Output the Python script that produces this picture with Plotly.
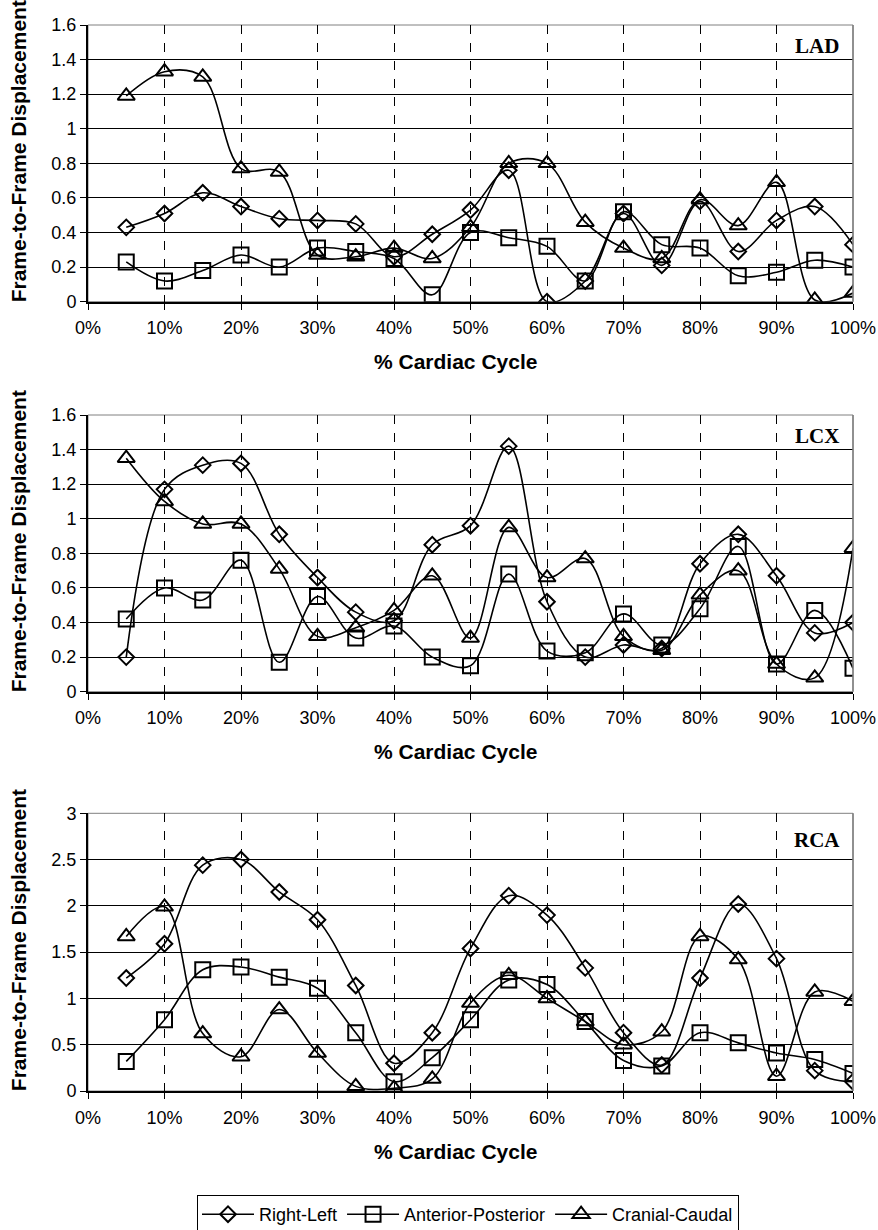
import plotly.graph_objects as go

W, H = 878, 1230

# ---------------- data ----------------
cycle = [0.05, 0.10, 0.15, 0.20, 0.25, 0.30, 0.35, 0.40, 0.45, 0.50,
         0.55, 0.60, 0.65, 0.70, 0.75, 0.80, 0.85, 0.90, 0.95, 1.00]

series_names = ["Right-Left", "Anterior-Posterior", "Cranial-Caudal"]
panel_names = ["LAD", "LCX", "RCA"]

lad_rl = [0.43, 0.51, 0.63, 0.55, 0.48, 0.47, 0.45, 0.26, 0.39, 0.53,
          0.76, 0.00, 0.12, 0.51, 0.21, 0.58, 0.29, 0.47, 0.55, 0.33]
lad_ap = [0.23, 0.12, 0.18, 0.27, 0.20, 0.31, 0.29, 0.25, 0.04, 0.40,
          0.37, 0.32, 0.12, 0.52, 0.33, 0.31, 0.15, 0.17, 0.24, 0.20]
lad_cc = [1.19, 1.33, 1.30, 0.77, 0.75, 0.27, 0.26, 0.31, 0.25, 0.43,
          0.80, 0.80, 0.46, 0.31, 0.25, 0.59, 0.44, 0.69, 0.01, 0.05]

lcx_rl = [0.20, 1.17, 1.31, 1.32, 0.91, 0.66, 0.46, 0.41, 0.85, 0.96,
          1.42, 0.52, 0.20, 0.27, 0.25, 0.74, 0.91, 0.67, 0.34, 0.40]
lcx_ap = [0.42, 0.60, 0.53, 0.76, 0.17, 0.55, 0.31, 0.38, 0.20, 0.15,
          0.68, 0.235, 0.225, 0.45, 0.27, 0.48, 0.84, 0.16, 0.47, 0.135]
lcx_cc = [1.35, 1.10, 0.97, 0.97, 0.71, 0.32, 0.37, 0.47, 0.67, 0.31,
          0.95, 0.66, 0.77, 0.32, 0.24, 0.56, 0.70, 0.16, 0.08, 0.83]

rca_rl = [1.22, 1.59, 2.44, 2.50, 2.15, 1.85, 1.14, 0.30, 0.63, 1.54,
          2.11, 1.90, 1.33, 0.63, 0.28, 1.22, 2.02, 1.43, 0.22, 0.10]
rca_ap = [0.32, 0.77, 1.31, 1.34, 1.23, 1.11, 0.63, 0.10, 0.36, 0.77,
          1.20, 1.15, 0.75, 0.33, 0.27, 0.63, 0.52, 0.41, 0.34, 0.19]
rca_cc = [1.67, 1.99, 0.62, 0.37, 0.88, 0.41, 0.05, 0.03, 0.13, 0.95,
          1.25, 1.00, 0.75, 0.50, 0.64, 1.67, 1.42, 0.16, 1.07, 0.97]

panel_data = [
    [lad_rl, lad_ap, lad_cc],
    [lcx_rl, lcx_ap, lcx_cc],
    [rca_rl, rca_ap, rca_cc],
]
y_max = [1.6, 1.6, 3.0]
y_step = [0.2, 0.2, 0.5]

# ---------------- styling ----------------
symbols = ["diamond-open", "square-open", "triangle-up-open"]
sizes = [12, 15, 15]

# pixel geometry of the three plot areas (top, bottom)
panel_px = [(25, 301.7), (415, 691.7), (813.3, 1091)]
x_left, x_right = 88, 853

TICK_FONT = dict(family="Liberation Sans, Arial, sans-serif", size=18, color="black")
TITLE_FONT = dict(family="Liberation Sans, Arial, sans-serif", size=21, color="black")

fig = go.Figure()

for p in range(3):
    xa = "x" if p == 0 else f"x{p+1}"
    ya = "y" if p == 0 else f"y{p+1}"
    for s in range(3):
        fig.add_trace(go.Scatter(
            x=cycle, y=panel_data[p][s],
            mode="lines+markers",
            name=series_names[s],
            showlegend=(p == 0),
            legendgroup=series_names[s],
            line=dict(color="black", width=1.6, shape="spline", smoothing=1.0),
            marker=dict(symbol=symbols[s], size=sizes[s], color="black",
                        line=dict(color="black", width=2)),
            xaxis=xa, yaxis=ya,
            cliponaxis=True,
        ))

layout = dict(
    width=W, height=H,
    margin=dict(l=0, r=0, t=0, b=0, autoexpand=False),
    paper_bgcolor="white",
    plot_bgcolor="white",
    showlegend=True,
    legend=dict(
        orientation="h",
        x=468 / W, xanchor="center",
        y=1 - 1195 / H, yanchor="top",
        bordercolor="black", borderwidth=1,
        bgcolor="white",
        font=dict(family="Liberation Sans, Arial, sans-serif", size=18, color="black"),
        itemwidth=52,
        tracegroupgap=0,
    ),
)

annotations = []
shapes = []
for p in range(3):
    top, bot = panel_px[p]
    suffix = "" if p == 0 else str(p + 1)
    dom_y = [1 - bot / H, 1 - top / H]
    layout["xaxis" + suffix] = dict(
        domain=[x_left / W, x_right / W],
        anchor="y" + suffix,
        range=[0, 1],
        tickmode="linear", tick0=0, dtick=0.1,
        tickformat=".0%",
        showgrid=True, gridcolor="black", gridwidth=1, griddash="dash",
        showline=True, linecolor="black", linewidth=2,
        ticks="outside", ticklen=6, tickcolor="black", tickwidth=1,
        tickfont=TICK_FONT,
        ticklabelstandoff=3,
        zeroline=False, automargin=False,
        fixedrange=True,
    )
    layout["yaxis" + suffix] = dict(
        domain=dom_y,
        anchor="x" + suffix,
        range=[0, y_max[p]],
        tickmode="linear", tick0=0, dtick=y_step[p],
        showgrid=True, gridcolor="black", gridwidth=1,
        showline=True, linecolor="black", linewidth=2,
        ticks="outside", ticklen=6, tickcolor="black", tickwidth=1,
        tickfont=TICK_FONT,
        zeroline=False, automargin=False,
        fixedrange=True,
    )
    # gray frame on top / right
    shapes.append(dict(
        type="rect", xref=f"x{suffix} domain", yref=f"y{suffix} domain",
        x0=0, x1=1, y0=0, y1=1,
        line=dict(color="#808080", width=1), layer="below",
    ))
    shapes.append(dict(
        type="line", xref=f"x{suffix} domain", yref=f"y{suffix} domain",
        x0=1, x1=1, y0=0, y1=1,
        line=dict(color="#808080", width=1.5), layer="above",
    ))
    # panel label
    label_y = top + (27 if p == 2 else 21)
    annotations.append(dict(
        text=f"<b>{panel_names[p]}</b>", xref="paper", yref="paper",
        x=817 / W, y=1 - label_y / H, xanchor="center", yanchor="middle",
        showarrow=False,
        font=dict(family="Liberation Serif, Times New Roman, serif", size=21, color="black"),
    ))
    # x-axis title
    annotations.append(dict(
        text="<b>% Cardiac Cycle</b>", xref="paper", yref="paper",
        x=455 / W, y=1 - (bot + 60) / H,
        xanchor="center", yanchor="middle", showarrow=False,
        font=TITLE_FONT,
    ))
    # y-axis title
    annotations.append(dict(
        text="<b>Frame-to-Frame Displacement</b>", xref="paper", yref="paper",
        x=18 / W, y=1 - ((top + bot) / 2 - 12) / H,
        xanchor="center", yanchor="middle", showarrow=False, textangle=-90,
        font=TITLE_FONT,
    ))

layout["annotations"] = annotations
layout["shapes"] = shapes
fig.update_layout(**layout)

fig.write_html("out.html")
